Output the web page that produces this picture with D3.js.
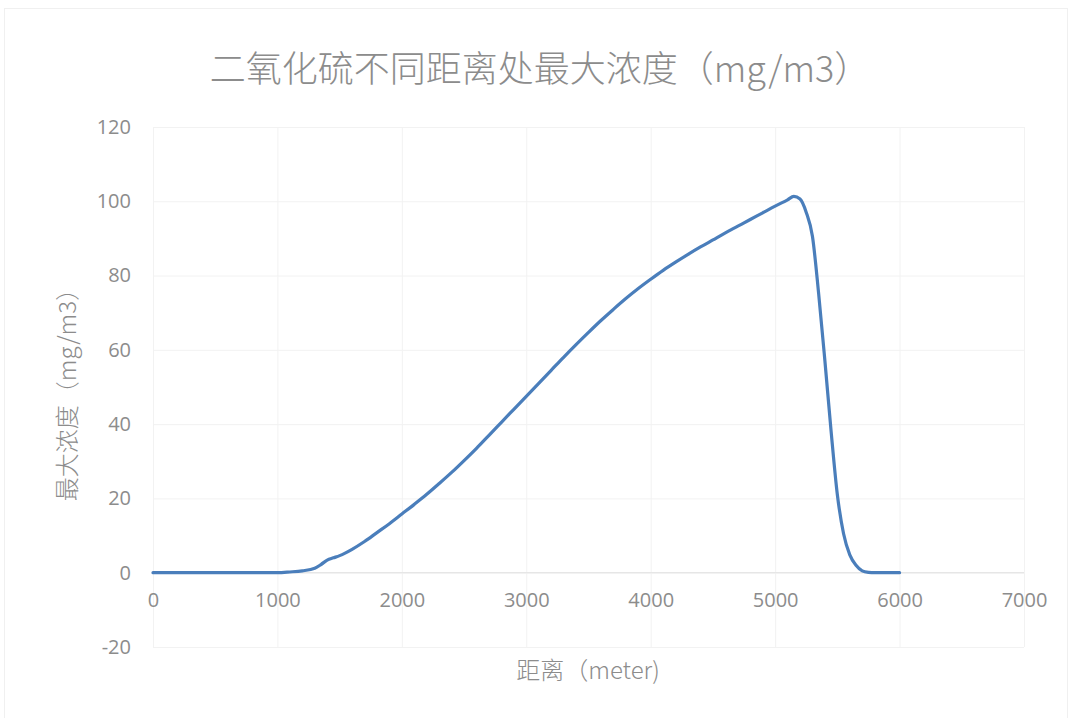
<!DOCTYPE html>
<html><head><meta charset="utf-8">
<script src="https://cdn.jsdelivr.net/npm/d3@7"></script>
<style>
html,body{margin:0;padding:0;background:#fff;}
svg{display:block;}
</style></head>
<body>
<svg id="chart" width="1069" height="718"></svg>
<script>
const titleText = "二氧化硫不同距离处最大浓度（mg/m3）";
const xTitle = "距离（meter)";
const yTitle = "最大浓度（mg/m3）";
const xTicks = [0,1000,2000,3000,4000,5000,6000,7000];
const yTicks = [-20,0,20,40,60,80,100,120];
const distance = [0,100,200,300,400,500,600,700,800,900,1000,1100,1200,1300,1350,1400,1450,1500,1600,1700,1800,1900,2000,2100,2200,2300,2400,2500,2600,2700,2800,2900,3000,3100,3200,3300,3400,3500,3600,3700,3800,3900,4000,4100,4200,4300,4400,4500,4600,4700,4800,4900,5000,5100,5150,5200,5250,5300,5350,5400,5450,5500,5550,5600,5650,5700,5750,5800,5900,6000];
const concentration = [0,0,0,0,0,0,0,0,0,0,0,0.2,0.5,1.2,2.2,3.4,4.0,4.6,6.3,8.4,10.8,13.2,15.8,18.4,21.1,24.0,27.0,30.2,33.5,37.0,40.5,44.0,47.5,51.0,54.5,58.0,61.4,64.7,67.9,70.9,73.8,76.5,79.0,81.4,83.6,85.7,87.7,89.6,91.5,93.3,95.1,96.9,98.7,100.4,101.3,100.6,97.0,90.5,75.0,57.0,38.0,21.0,10.5,4.8,2.0,0.5,0.1,0,0,0];

const svg = d3.select("#chart");
const W = 1069, H = 718;
const m = {left:153, right:W-1024, top:127, bottom:H-647};

svg.append("rect").attr("x",4.5).attr("y",8.5).attr("width",1063).attr("height",720)
  .attr("fill","#fff").attr("stroke","#f0f0f0").attr("stroke-width",1);

const x = d3.scaleLinear().domain([0,7000]).range([m.left, W-m.right]);
const y = d3.scaleLinear().domain([-20,120]).range([H-m.bottom, m.top]);

const fontNum = "'Open Sans', 'Noto Sans', sans-serif";
const fontCJK = "'Noto Sans CJK SC', 'Open Sans', sans-serif";
const grey = "#8c8c8c";

// gridlines
const gx = svg.append("g").attr("transform",`translate(0,${H-m.bottom})`)
  .call(d3.axisBottom(x).tickValues(xTicks).tickSize(-(H-m.bottom-m.top)).tickFormat(""));
gx.select(".domain").remove();
gx.selectAll("line").attr("stroke","#f2f2f2").attr("stroke-width",1);

const gy = svg.append("g").attr("transform",`translate(${m.left},0)`)
  .call(d3.axisLeft(y).tickValues(yTicks).tickSize(-(W-m.right-m.left)).tickFormat(""));
gy.select(".domain").remove();
gy.selectAll("line").attr("stroke","#f2f2f2").attr("stroke-width",1);

// zero axis line
svg.append("line").attr("x1",x(0)).attr("x2",x(7000)).attr("y1",y(0)).attr("y2",y(0))
  .attr("stroke","#e6e6e6").attr("stroke-width",1.2);

const fmt = d => String(d);
// tick labels via axes
const ax = svg.append("g").attr("transform",`translate(0,${y(0)})`)
  .call(d3.axisBottom(x).tickValues(xTicks).tickSize(0).tickPadding(20).tickFormat(fmt));
ax.select(".domain").remove();
ax.selectAll("text").attr("font-family",fontNum).attr("font-size",20).attr("fill",grey);

const ay = svg.append("g").attr("transform",`translate(${m.left},0)`)
  .call(d3.axisLeft(y).tickValues(yTicks).tickSize(0).tickPadding(22).tickFormat(fmt));
ay.select(".domain").remove();
ay.selectAll("text").attr("font-family",fontNum).attr("font-size",20).attr("fill",grey);

// line
const data = distance.map((d,i)=>({x:d, y:concentration[i]}));
svg.append("path").datum(data)
  .attr("fill","none").attr("stroke","#4a7ebb").attr("stroke-width",3.2)
  .attr("stroke-linejoin","round").attr("stroke-linecap","round")
  .attr("d", d3.line().x(d=>x(d.x)).y(d=>y(d.y)).curve(d3.curveMonotoneX));

// titles
svg.append("text").attr("x",540).attr("y",82).attr("text-anchor","middle")
  .attr("font-family",fontCJK).attr("font-size",36).attr("font-weight",300).attr("fill",grey)
  .text(titleText);
svg.append("text").attr("x",588).attr("y",679).attr("text-anchor","middle")
  .attr("font-family",fontCJK).attr("font-size",24).attr("font-weight",300).attr("fill",grey)
  .text(xTitle);
svg.append("text").attr("transform",`translate(76,389) rotate(-90)`)
  .attr("text-anchor","middle")
  .attr("font-family",fontCJK).attr("font-size",24).attr("font-weight",300).attr("fill",grey)
  .text(yTitle);
</script>
</body></html>
